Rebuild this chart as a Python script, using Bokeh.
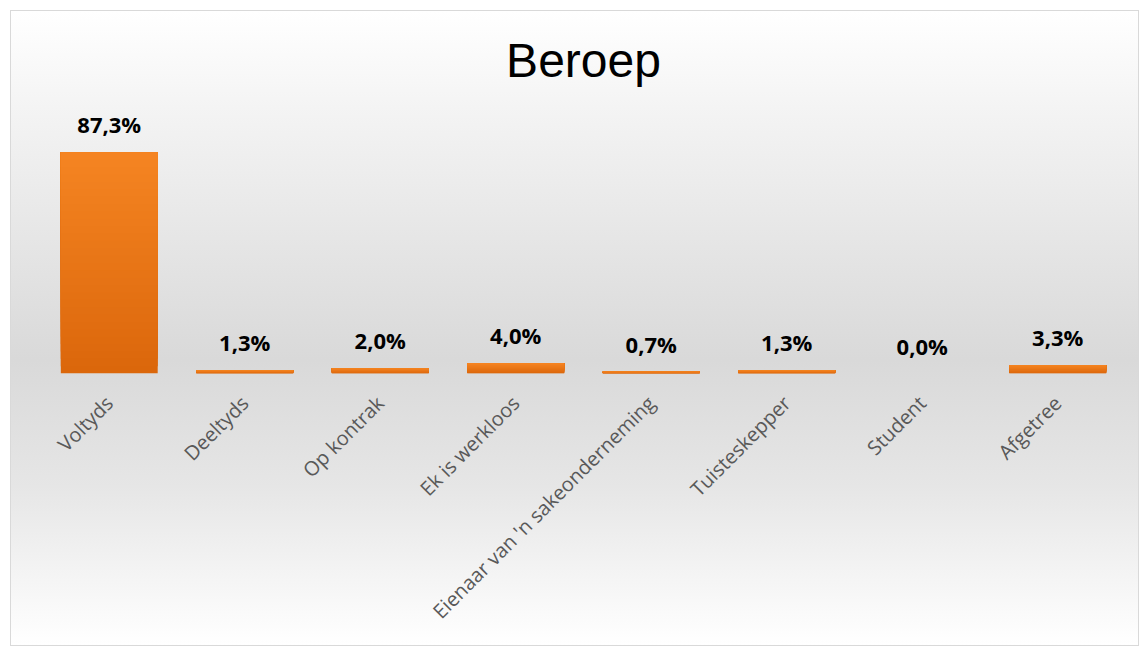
from bokeh.plotting import figure
from bokeh.models import ColumnDataSource, LabelSet, FactorRange, Range1d, Title
from bokeh.core.properties import value
from bokeh.embed import file_html
from bokeh.resources import INLINE
import math

categories = ["Voltyds", "Deeltyds", "Op kontrak", "Ek is werkloos",
              "Eienaar van 'n sakeonderneming", "Tuisteskepper", "Student", "Afgetree"]
values = [87.3, 1.3, 2.0, 4.0, 0.7, 1.3, 0.0, 3.3]
labels = [f"{v:.1f}%".replace(".", ",") for v in values]

src = ColumnDataSource(dict(cat=categories, val=values, lab=labels))

p = figure(x_range=FactorRange(*categories, range_padding=0), y_range=Range1d(0, 107.4),
           width=1129, height=636, output_backend="svg", toolbar_location=None,
           min_border_left=30, min_border_right=15, min_border_top=90, min_border_bottom=274)
p.styles = {"background": "linear-gradient(to bottom, #ffffff 0%, #f2f2f2 18%, #d9d9d9 55%, #e6e6e6 75%, #ffffff 100%)",
            "border": "1px solid #d9d9d9", "margin-left": "10px", "margin-top": "10px"}
p.background_fill_alpha = 0
p.border_fill_alpha = 0
p.outline_line_color = None

p.title = Title(text="Beroep", text_font="Liberation Sans", text_font_size="48px",
                text_font_style="normal", align="center", text_color="#000000", standoff=30)

# vertical colour gradient in each bar: overlapping layers, each from a higher
# start up to the bar's top, getting lighter
N = 30
top_rgb = (0xF5, 0x84, 0x22)
bot_rgb = (0xDB, 0x67, 0x0B)
seg = dict(cat=[], bottom=[], top=[], color=[])
for i in range(N):
    t = (i + 0.5) / N
    rgb = tuple(int(round(b + (a - b) * t)) for a, b in zip(top_rgb, bot_rgb))
    for c, v in zip(categories, values):
        seg["cat"].append(c)
        seg["bottom"].append(v * i / N)
        seg["top"].append(v)
        seg["color"].append("#%02x%02x%02x" % rgb)
p.vbar(x="cat", bottom="bottom", top="top", width=0.715, source=ColumnDataSource(seg),
       fill_color="color", line_color=None)

p.add_layout(LabelSet(x="cat", y="val", text="lab", source=src, y_offset=28,
                      text_align="center", text_baseline="middle",
                      text_font=value("Open Sans"), text_font_style="bold", text_font_size="22px",
                      text_color="#000000"))

p.xaxis.major_label_orientation = math.pi / 4
p.xaxis.major_label_text_font = "Open Sans"
p.xaxis.major_label_text_font_size = "20px"
p.xaxis.major_label_text_color = "#595959"
p.xaxis.major_label_standoff = 20
p.xaxis.axis_line_color = None
p.xaxis.major_tick_line_color = None
p.xaxis.minor_tick_line_color = None
p.yaxis.visible = False
p.xgrid.grid_line_color = None
p.ygrid.grid_line_color = None

open("out.html", "w").write(file_html(p, INLINE))
